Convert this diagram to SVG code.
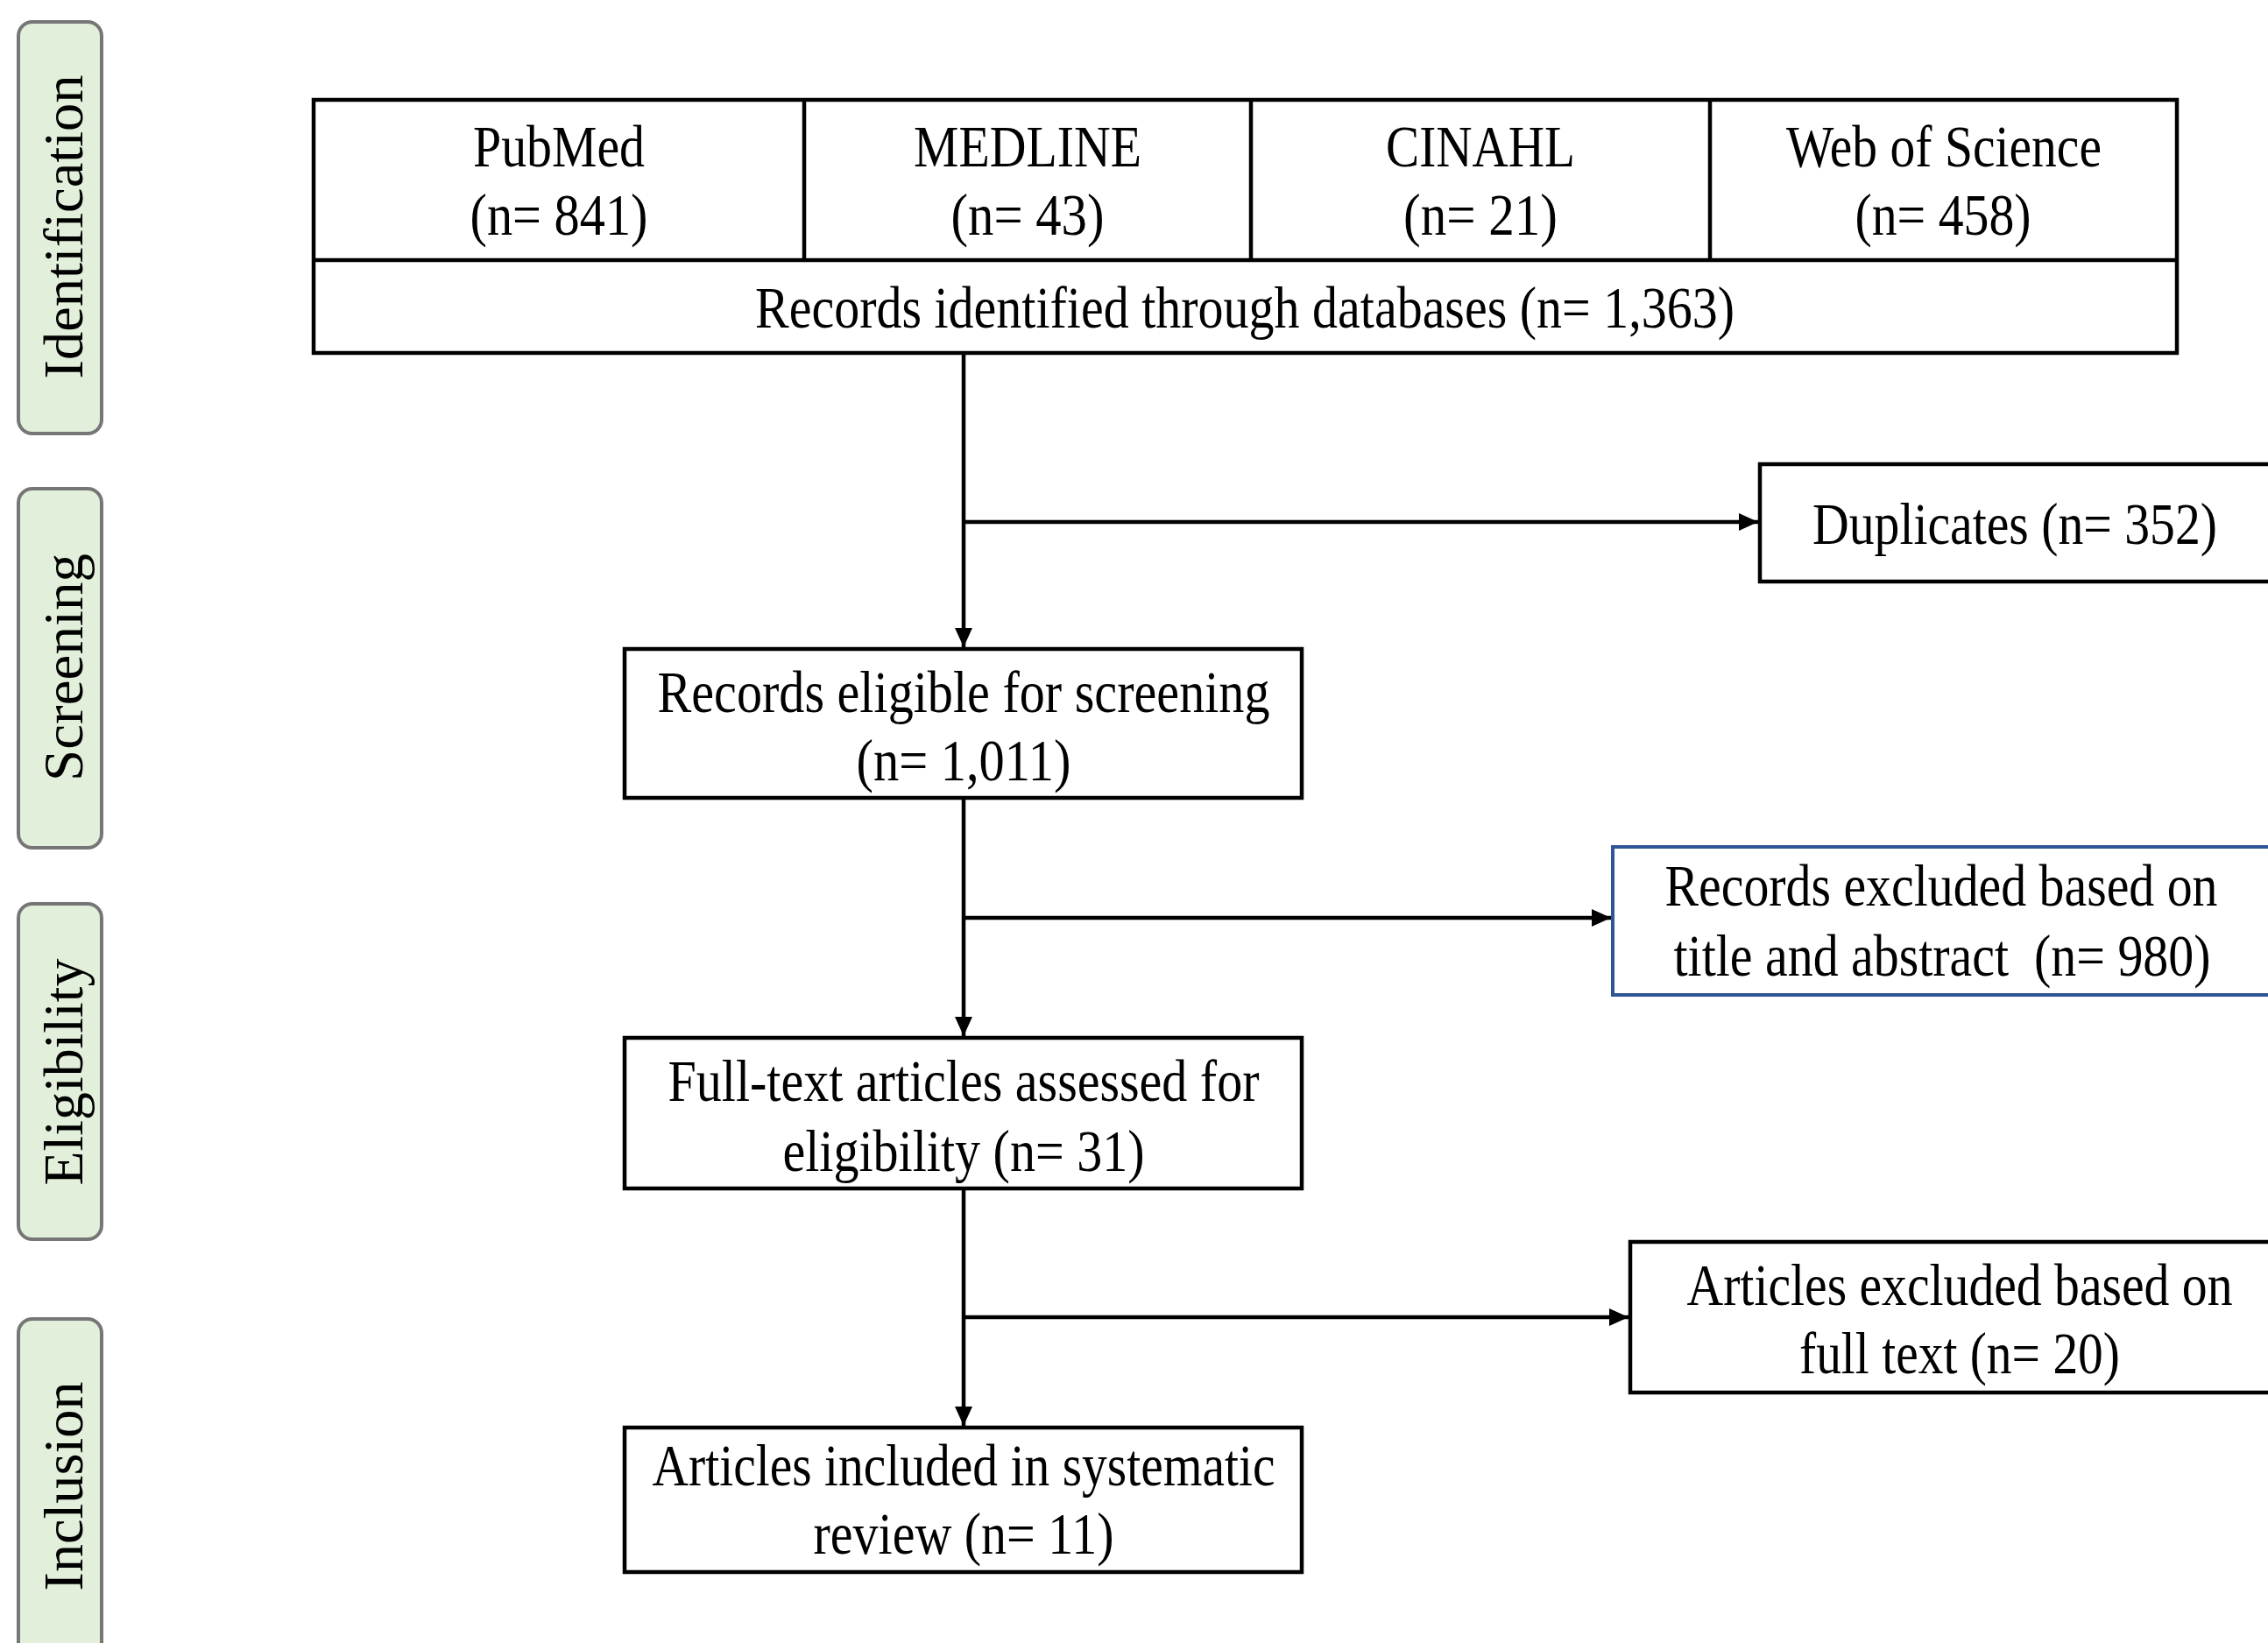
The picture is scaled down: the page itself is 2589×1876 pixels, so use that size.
<svg xmlns="http://www.w3.org/2000/svg" width="2589" height="1876" viewBox="0 0 2589 1876">
<style>
  .box{fill:#ffffff;stroke:#000000;stroke-width:4.5}
  .bluebox{fill:#ffffff;stroke:#2f5597;stroke-width:4}
  .stage{fill:#e2efda;stroke:#767676;stroke-width:4}
  .t{font-family:"Liberation Serif","Times New Roman",serif;font-size:68px;fill:#000;text-anchor:middle}
  .s{font-family:"Liberation Serif","Times New Roman",serif;font-size:64px;fill:#000;text-anchor:middle}
  .c{fill:none;stroke:#000;stroke-width:4.5}
</style>
<defs>
  <marker id="arr" markerUnits="userSpaceOnUse" markerWidth="24" markerHeight="20" refX="22" refY="10" orient="auto">
    <path d="M0,0 L22,10 L0,20 Z" fill="#000"/>
  </marker>
</defs>
<rect width="2589" height="1876" fill="#ffffff"/>

<g id="stage-identification">
  <rect class="stage" x="21" y="25" width="95" height="470" rx="16"/>
  <text class="s" transform="translate(94,259) rotate(-90)" textLength="347" lengthAdjust="spacingAndGlyphs">Identification</text>
</g>
<g id="stage-screening">
  <rect class="stage" x="21" y="558" width="95" height="410" rx="16"/>
  <text class="s" transform="translate(94,762) rotate(-90)" textLength="260" lengthAdjust="spacingAndGlyphs">Screening</text>
</g>
<g id="stage-eligibility">
  <rect class="stage" x="21" y="1032" width="95" height="383" rx="16"/>
  <text class="s" transform="translate(94,1224) rotate(-90)" textLength="259" lengthAdjust="spacingAndGlyphs">Eligibility</text>
</g>
<g id="stage-inclusion">
  <rect class="stage" x="21" y="1506" width="95" height="400" rx="16"/>
  <text class="s" transform="translate(94,1697) rotate(-90)" textLength="239" lengthAdjust="spacingAndGlyphs">Inclusion</text>
</g>

<g id="databases">
  <rect class="box" x="358" y="114" width="2127" height="289"/>
  <line class="c" x1="358" y1="297" x2="2485" y2="297"/>
  <line class="c" x1="918" y1="114" x2="918" y2="297"/>
  <line class="c" x1="1428" y1="114" x2="1428" y2="297"/>
  <line class="c" x1="1952" y1="114" x2="1952" y2="297"/>
  <text class="t" x="638" y="190" textLength="196" lengthAdjust="spacingAndGlyphs">PubMed</text>
  <text class="t" x="638" y="268" textLength="203" lengthAdjust="spacingAndGlyphs">(n= 841)</text>
  <text class="t" x="1173" y="190" textLength="260" lengthAdjust="spacingAndGlyphs">MEDLINE</text>
  <text class="t" x="1173" y="268" textLength="175" lengthAdjust="spacingAndGlyphs">(n= 43)</text>
  <text class="t" x="1690" y="190" textLength="216" lengthAdjust="spacingAndGlyphs">CINAHL</text>
  <text class="t" x="1690" y="268" textLength="176" lengthAdjust="spacingAndGlyphs">(n= 21)</text>
  <text class="t" x="2219" y="190" textLength="360" lengthAdjust="spacingAndGlyphs">Web of Science</text>
  <text class="t" x="2218" y="268" textLength="201" lengthAdjust="spacingAndGlyphs">(n= 458)</text>
  <text class="t" x="1421" y="374" textLength="1118" lengthAdjust="spacingAndGlyphs">Records identified through databases (n= 1,363)</text>
</g>

<g id="duplicates">
  <rect class="box" x="2009" y="530" width="600" height="134"/>
  <text class="t" x="2300" y="621" textLength="462" lengthAdjust="spacingAndGlyphs">Duplicates (n= 352)</text>
</g>

<g id="eligible">
  <rect class="box" x="713" y="741" width="773" height="170"/>
  <text class="t" x="1100" y="813" textLength="699" lengthAdjust="spacingAndGlyphs">Records eligible for screening</text>
  <text class="t" x="1100" y="891" textLength="245" lengthAdjust="spacingAndGlyphs">(n= 1,011)</text>
</g>

<g id="excluded-title">
  <rect class="bluebox" x="1841" y="967" width="770" height="169"/>
  <text class="t" x="2216" y="1034" textLength="631" lengthAdjust="spacingAndGlyphs">Records excluded based on</text>
  <text class="t" x="2217" y="1114" textLength="613" lengthAdjust="spacingAndGlyphs" xml:space="preserve">title and abstract  (n= 980)</text>
</g>

<g id="fulltext">
  <rect class="box" x="713" y="1185" width="773" height="172"/>
  <text class="t" x="1100" y="1257" textLength="675" lengthAdjust="spacingAndGlyphs">Full-text articles assessed for</text>
  <text class="t" x="1100" y="1337" textLength="413" lengthAdjust="spacingAndGlyphs">eligibility (n= 31)</text>
</g>

<g id="excluded-fulltext">
  <rect class="box" x="1861" y="1418" width="750" height="172"/>
  <text class="t" x="2237" y="1490" textLength="623" lengthAdjust="spacingAndGlyphs">Articles excluded based on</text>
  <text class="t" x="2237" y="1568" textLength="366" lengthAdjust="spacingAndGlyphs">full text (n= 20)</text>
</g>

<g id="included">
  <rect class="box" x="713" y="1630" width="773" height="165"/>
  <text class="t" x="1100" y="1696" textLength="711" lengthAdjust="spacingAndGlyphs">Articles included in systematic</text>
  <text class="t" x="1100" y="1774" textLength="343" lengthAdjust="spacingAndGlyphs">review (n= 11)</text>
</g>

<g id="connectors">
  <line class="c" x1="1100" y1="403" x2="1100" y2="739" marker-end="url(#arr)"/>
  <line class="c" x1="1100" y1="596" x2="2007" y2="596" marker-end="url(#arr)"/>
  <line class="c" x1="1100" y1="911" x2="1100" y2="1183" marker-end="url(#arr)"/>
  <line class="c" x1="1100" y1="1048" x2="1839" y2="1048" marker-end="url(#arr)"/>
  <line class="c" x1="1100" y1="1357" x2="1100" y2="1628" marker-end="url(#arr)"/>
  <line class="c" x1="1100" y1="1504" x2="1859" y2="1504" marker-end="url(#arr)"/>
</g>
</svg>
